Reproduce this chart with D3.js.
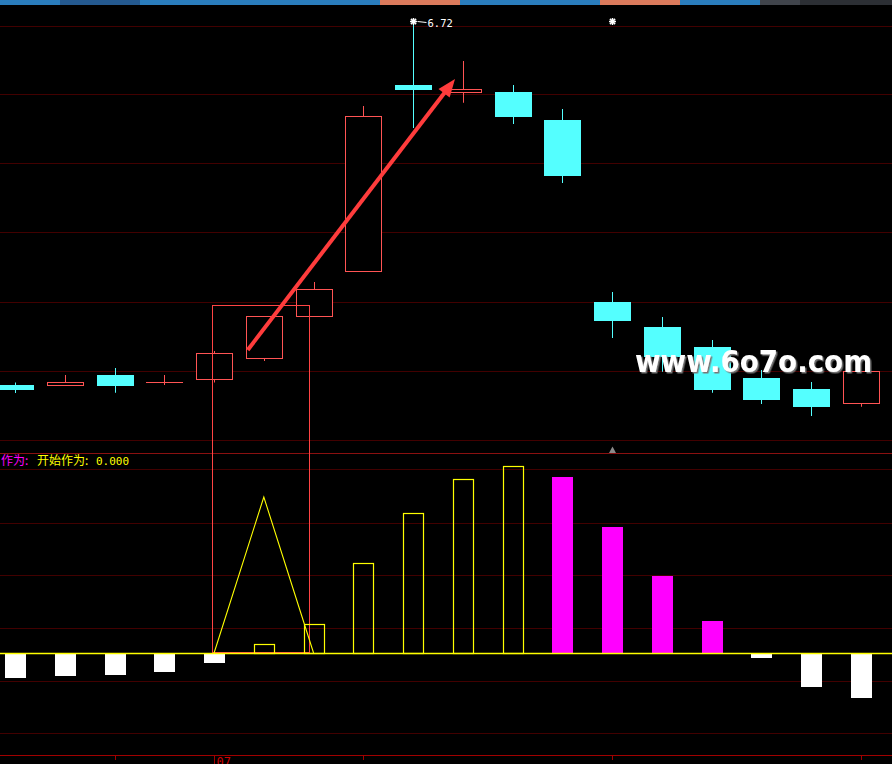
<!DOCTYPE html>
<html><head><meta charset="utf-8">
<script src="https://cdn.jsdelivr.net/npm/d3@7"></script>
<style>html,body{margin:0;padding:0;background:#000;overflow:hidden}</style>
</head><body>
<svg id="c" width="892" height="764"></svg>
<script>
// ---------- data ----------
const opens  = [5.26, 5.26, 5.30, 5.27, 5.28, 5.365, 5.536, 5.713, 6.46, 6.429, 6.432, 6.32, 5.592, 5.492, 5.412, 5.288, 5.244, 5.187];
const highs  = [5.27, 5.30, 5.328, 5.30, 5.396, 5.536, 5.672, 6.376, 6.72, 6.556, 6.46, 6.364, 5.632, 5.532, 5.44, 5.32, 5.272, 5.315];
const lows   = [5.228, 5.26, 5.229, 5.26, 5.27, 5.356, 5.536, 5.713, 6.288, 6.389, 6.304, 6.068, 5.448, 5.313, 5.229, 5.184, 5.136, 5.173];
const closes = [5.24, 5.27, 5.256, 5.27, 5.384, 5.536, 5.643, 6.335, 6.44, 6.444, 6.333, 6.097, 5.516, 5.372, 5.24, 5.20, 5.173, 5.315];
const gridPrices = [6.696, 6.42, 6.144, 5.868, 5.592, 5.316, 5.04];
const oscValues = [-0.25, -0.23, -0.22, -0.19, -0.10, 0.09, 0.29, 0.90, 1.40, 1.74, 1.87, 1.76, 1.26, 0.77, 0.32, -0.05, -0.34, -0.45];
const triangleIdx = [4, 5, 6];
const triangleVals = [0, 1.56, 0];
const gridLower = [1.83, 1.30, 0.78, 0.25, -0.28, -0.80];
const tickIdx = [2, 4, 7, 12, 17];
const tickLabel = {4: "07"};
const highLabel = "6.72";
const markIdx = [8, 12];
const oscLabelA = "作为:";
const oscLabelB = "开始作为:";
const oscLabelVal = "0.000";
const watermark = "www.6o7o.com";
// annotation (data coordinates)
const arrowFrom = {i: 4.677, p: 5.40};
const arrowTo   = {i: 8.842, p: 6.484};
const boxAnno   = {i0: 3.969, i1: 5.914, pTop: 5.579};

// ---------- layout ----------
const W = 892, H = 764;
const svg = d3.select('#c');
const defs = svg.append('defs');
const f = defs.append('filter').attr('id', 'sh').attr('x', '-5%').attr('y', '-20%').attr('width', '110%').attr('height', '140%');
f.append('feDropShadow').attr('dx', 1.5).attr('dy', 1.5).attr('stdDeviation', 0.6).attr('flood-color', '#777').attr('flood-opacity', 1);

svg.append('rect').attr('width', W).attr('height', H).attr('fill', '#000');

const x  = d3.scaleLinear().domain([0, 17]).range([15, 861]);
const y  = d3.scaleLinear().domain([5.04, 6.80]).range([440, 0]);
const yl = d3.scaleLinear().domain([-1.02, 2.0]).range([755, 453]);

// top strip
const strip = [[0,60,'#2a7dbd'],[60,140,'#24598f'],[140,380,'#2a7dbd'],[380,460,'#db7a5c'],[460,600,'#2a7dbd'],[600,680,'#db7a5c'],[680,760,'#2a7dbd'],[760,800,'#40444b'],[800,892,'#2c2f34']];
svg.append('g').selectAll('rect').data(strip).join('rect')
  .attr('x', d => d[0]).attr('y', 0).attr('width', d => d[1]-d[0]).attr('height', 5).attr('fill', d => d[2]);

const px = v => Math.floor(v) + 0.5;

// grids
const grid = svg.append('g').attr('stroke', '#420000').attr('stroke-width', 1);
grid.selectAll('line.m').data(gridPrices).join('line').attr('class','m')
  .attr('x1', 0).attr('x2', W).attr('y1', d => px(y(d))).attr('y2', d => px(y(d)));
grid.selectAll('line.l').data(gridLower).join('line').attr('class','l')
  .attr('x1', 0).attr('x2', W).attr('y1', d => px(yl(d))).attr('y2', d => px(yl(d)));
// separator
svg.append('line').attr('x1',0).attr('x2',W).attr('y1',453.5).attr('y2',453.5).attr('stroke','#8a1010');

// ---------- candles ----------
const cg = svg.append('g');
opens.forEach((o, i) => {
  const c = Math.round(x(i));
  const cl = closes[i], h = highs[i], l = lows[i];
  const up = cl >= o;
  const col = up ? '#ff5454' : '#54ffff';
  const yT = y(Math.max(o, cl)), yB = y(Math.min(o, cl));
  if (up) {
    if (Math.round(yT) === Math.round(yB)) {
      cg.append('line').attr('x1', c+0.5).attr('x2', c+0.5).attr('y1', y(h)).attr('y2', y(l)).attr('stroke', col);
      cg.append('line').attr('x1', c-18).attr('x2', c+19).attr('y1', px(yT)).attr('y2', px(yT)).attr('stroke', col);
      return;
    }
    if (y(h) < px(yT)) cg.append('line').attr('x1', c+0.5).attr('x2', c+0.5).attr('y1', y(h)).attr('y2', px(yT)).attr('stroke', col);
    if (y(l) > px(yB)) cg.append('line').attr('x1', c+0.5).attr('x2', c+0.5).attr('y1', px(yB)).attr('y2', y(l)).attr('stroke', col);
    cg.append('rect').attr('x', c-18+0.5).attr('y', px(yT)).attr('width', 36)
      .attr('height', Math.floor(yB)-Math.floor(yT)).attr('fill', '#000').attr('stroke', col);
  } else {
    cg.append('line').attr('x1', c+0.5).attr('x2', c+0.5).attr('y1', y(h)).attr('y2', y(l)).attr('stroke', col);
    cg.append('rect').attr('x', c-18).attr('y', Math.round(yT)).attr('width', 37)
      .attr('height', Math.max(1, Math.round(yB)-Math.round(yT))).attr('fill', col);
  }
});

// high markers (stars)
function star(cx, cy) {
  const s = svg.append('g').attr('transform', `translate(${cx},${cy})`).attr('stroke', '#fff').attr('stroke-width', 1.5);
  [[-3.5,0,3.5,0],[0,-3.5,0,3.5],[-2.6,-2.6,2.6,2.6],[-2.6,2.6,2.6,-2.6]].forEach(a =>
    s.append('line').attr('x1',a[0]).attr('y1',a[1]).attr('x2',a[2]).attr('y2',a[3]));
  s.append('circle').attr('r', 2).attr('fill', '#fff').attr('stroke', 'none');
}
markIdx.forEach(i => star(Math.round(x(i)) + 0.5, Math.round(y(6.72)) + 1.5));
{
  const sx = Math.round(x(8)) + 0.5, sy = y(6.72) + 1.5;
  svg.append('line').attr('x1', sx+4).attr('y1', sy).attr('x2', sx+13).attr('y2', sy+1).attr('stroke','#fff');
  svg.append('text').attr('x', sx+14).attr('y', sy+5.5).attr('fill', '#fff')
    .attr('font-family', 'DejaVu Sans Mono').attr('font-size', 10.5).text(highLabel);
}

// annotation box
{
  const x0 = px(x(boxAnno.i0)), x1 = px(x(boxAnno.i1)), yt = px(y(boxAnno.pTop)), yb = yl(0) - 0.5;
  svg.append('rect').attr('x', x0).attr('y', yt).attr('width', x1-x0).attr('height', yb-yt)
    .attr('fill', 'none').attr('stroke', '#ff4444').attr('stroke-width', 1);
}

// ---------- oscillator ----------
const og = svg.append('g');
oscValues.forEach((v, i) => {
  const c = Math.round(x(i));
  const y0 = yl(0), y1 = yl(v);
  if (v < 0) {
    og.append('rect').attr('x', c-10).attr('y', y0).attr('width', 21).attr('height', Math.round(y1)-y0).attr('fill', '#fff');
  } else if (i === 0 || v >= oscValues[i-1]) {
    og.append('rect').attr('x', c-10+0.5).attr('y', px(y1)).attr('width', 20).attr('height', y0-Math.floor(y1))
      .attr('fill', 'none').attr('stroke', '#ffff00').attr('stroke-width', 1.2);
  } else {
    og.append('rect').attr('x', c-10).attr('y', Math.round(y1)).attr('width', 21).attr('height', y0-Math.round(y1)).attr('fill', '#ff00ff');
  }
});
svg.append('path')
  .attr('d', d3.line().x((d, k) => x(triangleIdx[k])).y(d => yl(d))(triangleVals))
  .attr('fill', 'none').attr('stroke', '#ffff00').attr('stroke-width', 1.1);
svg.append('line').attr('x1', 0).attr('x2', W).attr('y1', yl(0)+0.5).attr('y2', yl(0)+0.5)
  .attr('stroke', '#ffff00').attr('stroke-width', 1.3);

// arrow
{
  const ax0 = x(arrowFrom.i), ay0 = y(arrowFrom.p), ax1 = x(arrowTo.i), ay1 = y(arrowTo.p);
  const dx = ax1-ax0, dy = ay1-ay0, L = Math.hypot(dx, dy), ux = dx/L, uy = dy/L;
  const hl = 18, hw = 7;
  const bx = ax1 - hl*ux, by = ay1 - hl*uy;
  svg.append('line').attr('x1', ax0).attr('y1', ay0).attr('x2', bx+2*ux).attr('y2', by+2*uy)
    .attr('stroke', '#ff3c3c').attr('stroke-width', 4);
  svg.append('path').attr('d', `M${ax1},${ay1}L${bx-hw*uy},${by+hw*ux}L${bx+hw*uy},${by-hw*ux}Z`).attr('fill', '#ff3c3c');
}

// cursor triangle marker
{
  const c = Math.round(x(12)) + 0.5;
  svg.append('path').attr('d', `M${c},446.5L${c+3.5},453L${c-3.5},453Z`).attr('fill', '#8a8a8a');
}

// oscillator label
{
  const t = svg.append('text').attr('y', 465).attr('font-size', 12).attr('font-family', "'Noto Sans CJK SC', sans-serif");
  t.append('tspan').attr('x', 1).attr('fill', '#ff00ff').text(oscLabelA);
  t.append('tspan').attr('x', 37).attr('fill', '#ffff00').text(oscLabelB);
  t.append('tspan').attr('x', 96).attr('fill', '#ffff00').attr('font-family', 'DejaVu Sans Mono').attr('font-size', 11).text(oscLabelVal);
}

// bottom axis
svg.append('line').attr('x1', 0).attr('x2', W).attr('y1', 755.5).attr('y2', 755.5).attr('stroke', '#a00000');
tickIdx.forEach(i => {
  const c = Math.round(x(i)) + 0.5;
  svg.append('line').attr('x1', c).attr('x2', c).attr('y1', 756).attr('y2', tickLabel[i] ? 764 : 760).attr('stroke', '#a00000');
  if (tickLabel[i]) svg.append('text').attr('x', c+2).attr('y', 766).attr('fill', '#d00000')
    .attr('font-family', 'DejaVu Sans Mono').attr('font-size', 12).text(tickLabel[i]);
});

// watermark
svg.append('text').attr('x', 635).attr('y', 372).attr('fill', '#fff').attr('filter', 'url(#sh)')
  .attr('font-family', 'DejaVu Sans').attr('font-weight', 'bold').attr('font-size', 31)
  .attr('textLength', 237).attr('lengthAdjust', 'spacingAndGlyphs').text(watermark);
</script>
</body></html>
